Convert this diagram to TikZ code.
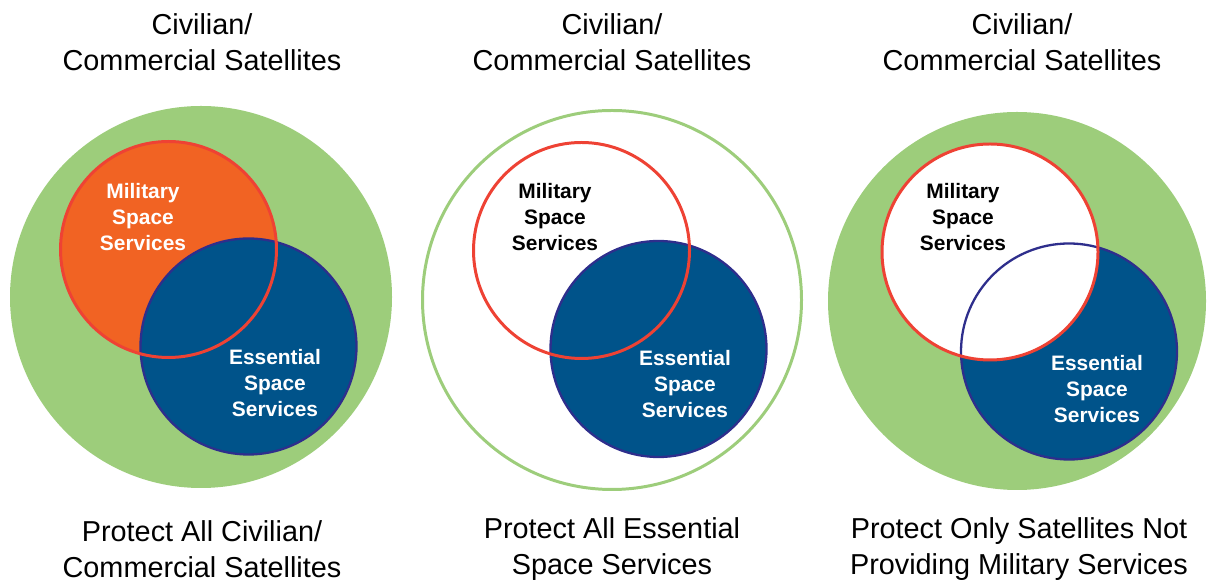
\documentclass[tikz,border=0pt]{standalone}
\usepackage{fontspec}
\setmainfont{Liberation Sans}
\usepackage{tikz}
\definecolor{leafgreen}{RGB}{157,205,123}
\definecolor{flameorange}{RGB}{241,99,35}
\definecolor{deepblue}{RGB}{0,83,138}
\definecolor{indigoline}{RGB}{46,46,140}
\definecolor{signalred}{RGB}{238,66,52}

\tikzset{
  caption/.style={align=center, font=\fontsize{16.4}{20.5}\selectfont},
  inlabel/.style={align=center, font=\bfseries\fontsize{11.9}{14.7}\selectfont},
  redring/.style={signalred, line width=1.7pt},
  bluering/.style={indigoline, line width=1.3pt}
}

\begin{document}
\begin{tikzpicture}
    \useasboundingbox (0,0) rectangle (24.14,11.64);

    % Left panel
    \node[caption] (title1) at (4.04,10.80) {Civilian/\\Commercial Satellites};
    \fill[leafgreen] (4.02,5.70) circle (3.82);
    \fill[flameorange] (3.37,6.65) circle (2.16);
    \draw[bluering, fill=deepblue] (4.97,4.71) circle (2.16);
    \draw[redring] (3.37,6.65) circle (2.16);
    \node[inlabel, text=white] (mil1) at (2.86,7.30) {Military\\Space\\Services};
    \node[inlabel, text=white] (ess1) at (5.50,3.98) {Essential\\Space\\Services};
    \node[caption] (goal1) at (4.04,0.66) {Protect All Civilian/\\Commercial Satellites};

    % Middle panel
    \node[caption] (title2) at (12.24,10.80) {Civilian/\\Commercial Satellites};
    \draw[leafgreen, line width=1.7pt] (12.24,5.64) circle (3.79);
    \draw[bluering, fill=deepblue] (13.17,4.66) circle (2.16);
    \draw[redring] (11.63,6.63) circle (2.16);
    \node[inlabel] (mil2) at (11.10,7.30) {Military\\Space\\Services};
    \node[inlabel, text=white] (ess2) at (13.70,3.96) {Essential\\Space\\Services};
    \node[caption] (goal2) at (12.24,0.66) {Protect All Essential\\Space Services};

    % Right panel
    \node[caption] (title3) at (20.44,10.80) {Civilian/\\Commercial Satellites};
    \fill[leafgreen] (20.34,5.62) circle (3.78);
    \fill[deepblue] (21.38,4.61) circle (2.16);
    \fill[white] (19.80,6.60) circle (2.16);
    \draw[bluering] (21.38,4.61) circle (2.16);
    \draw[redring] (19.80,6.60) circle (2.16);
    \node[inlabel] (mil3) at (19.26,7.30) {Military\\Space\\Services};
    \node[inlabel, text=white] (ess3) at (21.94,3.86) {Essential\\Space\\Services};
    \node[caption] (goal3) at (20.38,0.66) {Protect Only Satellites Not\\Providing Military Services};
\end{tikzpicture}
\end{document}
